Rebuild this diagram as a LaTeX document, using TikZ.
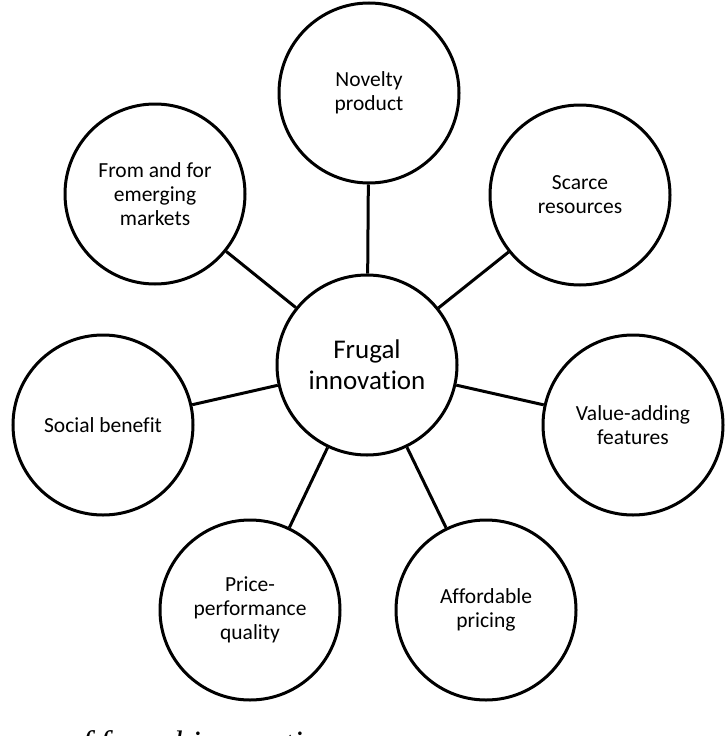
\documentclass[tikz,border=0pt]{standalone}
\usepackage{fontspec}
\setmainfont{Carlito}[Ligatures={NoCommon}]
\newfontfamily\capfont{Liberation Serif}
\begin{document}
\begin{tikzpicture}[x=1pt,y=-1pt,
  bub/.style={circle, draw=black, line width=3pt, minimum size=180pt, inner sep=0pt, align=center, font=\fontsize{21.5}{24}\selectfont},
  hub/.style={bub, font=\fontsize{27}{31}\selectfont},
  link/.style={line width=3pt},
  capstyle/.style={anchor=base east, inner sep=0pt, font=\capfont\itshape\fontsize{34}{40}\selectfont}]
\useasboundingbox (0,0) rectangle (726,736);
\clip (0,0) rectangle (726,736);
\node[hub] (hub) at (367,365) {Frugal\\innovation};
\node[bub] (nov) at (369,93) {Novelty\\product};
\node[bub] (sca) at (580,195) {Scarce\\resources};
\node[bub] (val) at (633,425) {Value-adding\\features};
\node[bub] (aff) at (486,610) {Affordable\\pricing};
\node[bub] (pri) at (250,610) {Price-\\performance\\quality};
\node[bub] (soc) at (103,425) {Social benefit};
\node[bub] (emk) at (155,194) {From and for\\emerging\\markets};
\draw[link] (hub) -- (nov);
\draw[link] (hub) -- (sca);
\draw[link] (hub) -- (val);
\draw[link] (hub) -- (aff);
\draw[link] (hub) -- (pri);
\draw[link] (hub) -- (soc);
\draw[link] (hub) -- (emk);
\node[capstyle] (cap) at (337,754) {Features of frugal innovation};
\end{tikzpicture}
\end{document}
